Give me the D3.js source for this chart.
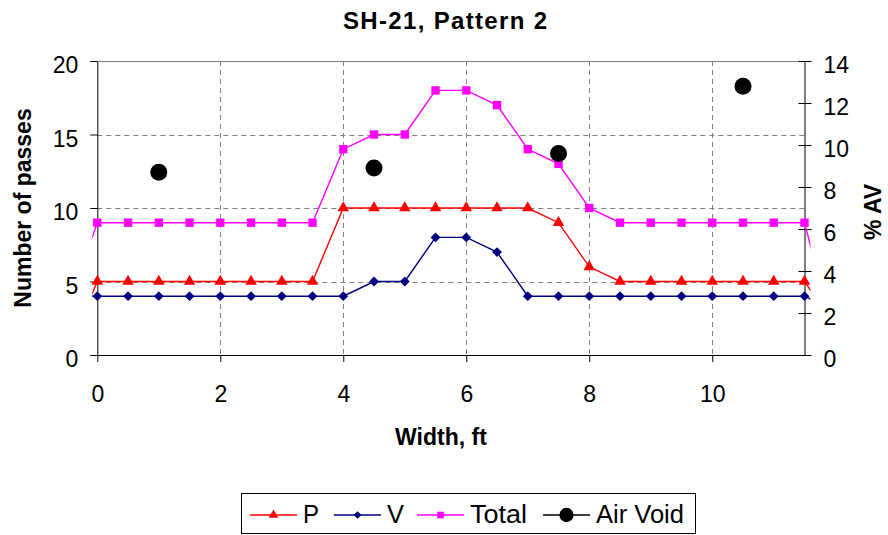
<!DOCTYPE html>
<html>
<head>
<meta charset="utf-8">
<script src="https://cdn.jsdelivr.net/npm/d3@7"></script>
<style>
  body { margin: 0; background: #fff; }
  svg { display: block; font-family: "Liberation Sans", Arial, sans-serif; }
</style>
</head>
<body>
<svg id="chart" width="888" height="535"></svg>
<script>
// width positions (ft); first and last lie outside the axis and are clipped
var widthFt = [-0.5, 0, 0.5, 1, 1.5, 2, 2.5, 3, 3.5, 4, 4.5, 5, 5.5, 6, 6.5, 7, 7.5, 8, 8.5, 9, 9.5, 10, 10.5, 11, 11.5, 12];
var pVals = [0, 5, 5, 5, 5, 5, 5, 5, 5, 10, 10, 10, 10, 10, 10, 10, 9, 6, 5, 5, 5, 5, 5, 5, 5, 2];
var vVals = [4, 4, 4, 4, 4, 4, 4, 4, 4, 4, 5, 5, 8, 8, 7, 4, 4, 4, 4, 4, 4, 4, 4, 4, 4, 3];
var totalVals = [3, 9, 9, 9, 9, 9, 9, 9, 9, 14, 15, 15, 18, 18, 17, 14, 13, 10, 9, 9, 9, 9, 9, 9, 9, 1];

var avWidth = [1, 4.5, 7.5, 10.5];
var avVals = [8.7, 8.9, 9.6, 12.8];

var xTicks = [0, 2, 4, 6, 8, 10];
var leftTicks = [0, 5, 10, 15, 20];
var rightTicks = [0, 2, 4, 6, 8, 10, 12, 14];

(function () {
    var svg = d3.select('#chart');
    var pl = 97.3, pr = 804.5, pt = 61, pb = 355;

    var x = d3.scaleLinear().domain([0, 11.5]).range([pl, pr]);
    var yL = d3.scaleLinear().domain([0, 20]).range([pb, pt]);
    var yR = d3.scaleLinear().domain([0, 14]).range([pb, pt]);

    // title
    svg.append('text').attr('x', 445).attr('y', 29).attr('text-anchor', 'middle')
        .attr('font-size', 24).attr('font-weight', 'bold')
        .attr('textLength', 204).attr('lengthAdjust', 'spacing')
        .text('SH-21, Pattern 2');

    // grid
    var grid = svg.append('g').attr('stroke', '#808080').attr('stroke-width', 1)
        .attr('stroke-dasharray', '5,4').attr('fill', 'none');
    [5, 10, 15].forEach(function (v) {
        grid.append('line').attr('x1', pl).attr('x2', pr)
            .attr('y1', Math.round(yL(v)) + 0.5).attr('y2', Math.round(yL(v)) + 0.5);
    });
    [2, 4, 6, 8, 10].forEach(function (v) {
        grid.append('line').attr('y1', pt).attr('y2', pb)
            .attr('x1', Math.round(x(v)) + 0.5).attr('x2', Math.round(x(v)) + 0.5);
    });
    svg.append('line').attr('x1', pl).attr('x2', pr).attr('y1', pt + 0.5).attr('y2', pt + 0.5)
        .attr('stroke', '#808080');

    // axes
    var gx = svg.append('g').attr('transform', 'translate(0,' + pb + ')')
        .call(d3.axisBottom(x).tickValues(xTicks).tickSize(7).tickPadding(23).tickSizeOuter(0));
    var gl = svg.append('g').attr('transform', 'translate(' + pl + ',0)')
        .call(d3.axisLeft(yL).tickValues(leftTicks).tickSize(7).tickPadding(12).tickSizeOuter(0));
    var gr = svg.append('g').attr('transform', 'translate(' + pr + ',0)')
        .call(d3.axisRight(yR).tickValues(rightTicks).tickSize(7).tickPadding(12).tickSizeOuter(0));
    gr.selectAll('.tick line').attr('x1', -6);
    [gx, gl, gr].forEach(function (g) {
        g.selectAll('path, line').attr('stroke', '#000');
        g.selectAll('text').attr('font-size', 23).attr('fill', '#000')
            .attr('font-family', '"Liberation Sans", Arial, sans-serif');
    });
    gl.selectAll('text').attr('dy', '0.68em').attr('y', -4);
    gr.selectAll('text').attr('dy', '0.68em').attr('y', -4);
    gx.selectAll('text').attr('dy', '0.72em');

    // axis titles
    svg.append('text').attr('x', 441).attr('y', 445).attr('text-anchor', 'middle')
        .attr('font-size', 23).attr('font-weight', 'bold').text('Width, ft');
    svg.append('text').attr('transform', 'translate(31,208) rotate(-90)').attr('text-anchor', 'middle')
        .attr('font-size', 23).attr('font-weight', 'bold').text('Number of passes');
    svg.append('text').attr('transform', 'translate(881,212) rotate(-90)').attr('text-anchor', 'middle')
        .attr('font-size', 23).attr('font-weight', 'bold').text('% AV');

    // series
    svg.append('clipPath').attr('id', 'clip').append('rect')
        .attr('x', pl - 5).attr('y', 0).attr('width', pr - pl + 11).attr('height', 535);

    var series = [
        {name: 'P', vals: pVals, color: '#ff0000', shape: d3.symbolTriangle, size: 58, rot: 0},
        {name: 'V', vals: vVals, color: '#000080', shape: d3.symbolSquare, size: 48, rot: 45},
        {name: 'Total', vals: totalVals, color: '#ff00ff', shape: d3.symbolSquare, size: 70, rot: 0}
    ];

    var line = d3.line().x(function (d) { return x(d[0]); }).y(function (d) { return yL(d[1]); });

    series.forEach(function (s) {
        var pts = widthFt.map(function (w, i) { return [w, s.vals[i]]; });
        svg.append('path').datum(pts).attr('d', line).attr('fill', 'none')
            .attr('stroke', s.color).attr('stroke-width', 1.4).attr('clip-path', 'url(#clip)');
        svg.append('g').selectAll('path')
            .data(pts.filter(function (d) { return d[0] >= 0 && d[0] <= 11.5; }))
            .enter().append('path')
            .attr('d', d3.symbol().type(s.shape).size(s.size))
            .attr('fill', s.color)
            .attr('transform', function (d) {
                return 'translate(' + x(d[0]) + ',' + yL(d[1]) + ') rotate(' + s.rot + ')';
            });
    });

    svg.append('g').selectAll('circle').data(avWidth).enter().append('circle')
        .attr('cx', function (d) { return x(d); })
        .attr('cy', function (d, i) { return yR(avVals[i]); })
        .attr('r', 8.5).attr('fill', '#000');

    // legend
    var lg = svg.append('g');
    lg.append('rect').attr('x', 241.5).attr('y', 493.5).attr('width', 454).attr('height', 40)
        .attr('fill', '#fff').attr('stroke', '#000');
    var legendItems = [
        {label: 'P', color: '#ff0000', x: 250, shape: d3.symbolTriangle, size: 40, rot: 0, w: 16},
        {label: 'V', color: '#000080', x: 334, shape: d3.symbolSquare, size: 30, rot: 45, w: 17},
        {label: 'Total', color: '#ff00ff', x: 417, shape: d3.symbolSquare, size: 44, rot: 0, w: 57},
        {label: 'Air Void', color: '#000', x: 543, shape: d3.symbolCircle, size: 160, rot: 0, w: 88}
    ];
    legendItems.forEach(function (it) {
        lg.append('line').attr('x1', it.x).attr('x2', it.x + 47).attr('y1', 515).attr('y2', 515)
            .attr('stroke', it.color).attr('stroke-width', 1.4);
        lg.append('path').attr('d', d3.symbol().type(it.shape).size(it.size)())
            .attr('fill', it.color)
            .attr('transform', 'translate(' + (it.x + 23.5) + ',515) rotate(' + it.rot + ')');
        lg.append('text').attr('x', it.x + 53).attr('y', 523).attr('font-size', 25)
            .attr('textLength', it.w).attr('lengthAdjust', 'spacingAndGlyphs')
            .text(it.label);
    });
})();
</script>
</body>
</html>
